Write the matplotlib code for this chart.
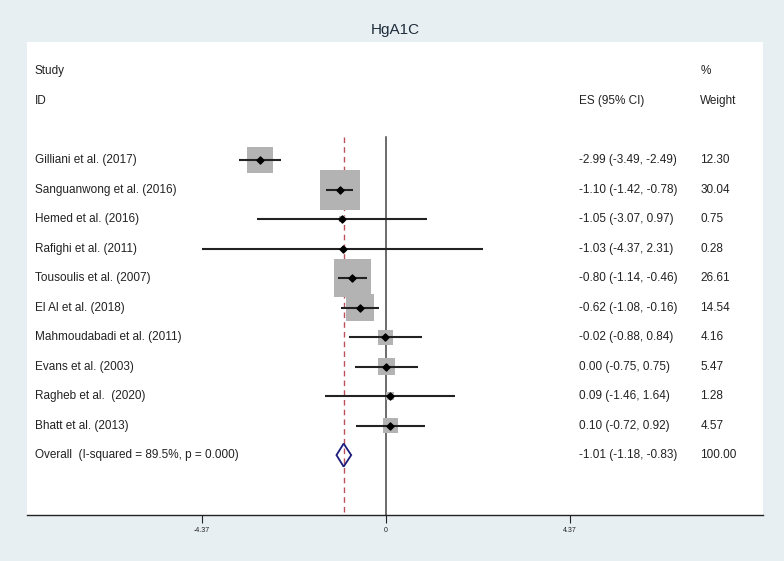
import matplotlib.pyplot as plt
from matplotlib.patches import Polygon

plt.rcParams['font.family'] = ['Liberation Sans', 'DejaVu Sans']

studies = ["Gilliani et al. (2017)", "Sanguanwong et al. (2016)", "Hemed et al. (2016)",
           "Rafighi et al. (2011)", "Tousoulis et al. (2007)", "El Al et al. (2018)",
           "Mahmoudabadi et al. (2011)", "Evans et al. (2003)", "Ragheb et al.  (2020)",
           "Bhatt et al. (2013)"]
es = [-2.99, -1.10, -1.05, -1.03, -0.80, -0.62, -0.02, 0.00, 0.09, 0.10]
lo = [-3.49, -1.42, -3.07, -4.37, -1.14, -1.08, -0.88, -0.75, -1.46, -0.72]
hi = [-2.49, -0.78, 0.97, 2.31, -0.46, -0.16, 0.84, 0.75, 1.64, 0.92]
weights = [12.30, 30.04, 0.75, 0.28, 26.61, 14.54, 4.16, 5.47, 1.28, 4.57]
overall_label = "Overall  (I-squared = 89.5%, p = 0.000)"
overall = (-1.01, -1.18, -0.83)
ticks = [-4.37, 0, 4.37]

bg = '#e8eff2'
txt = '#222222'
fs = 8.5

fig = plt.figure(figsize=(7.84, 5.61), dpi=100, facecolor=bg)
ax = fig.add_axes([27/784, 1-515/561, 736/784, 473/561])
ax.set_facecolor('white')
ax.set_xlim(-8.53, 8.95)
ax.set_ylim(12.03, -4.0)

rows = list(range(len(studies)))
n = len(studies)

# reference lines
ax.plot([0, 0], [-0.78, 12.03], color='#444444', lw=1.1, zorder=1)
ax.plot([overall[0], overall[0]], [-0.78, 12.03], color='#b9505a', lw=1.0,
        ls=(0, (4, 3)), zorder=1)

# weight boxes (area proportional to weight)
ax.scatter(es, rows, s=[28.8**2 * w / 30.04 for w in weights], marker='s',
           color='#b3b3b3', linewidths=0, zorder=2)
ax.hlines(rows, lo, hi, color='#222222', lw=1.5, zorder=3)
ax.scatter(es, rows, s=13, marker='D', color='black', zorder=4)

# overall diamond
e, l, h = overall
dia = Polygon([[l, n], [e, n - 0.39], [h, n], [e, n + 0.39]], closed=True,
              fill=False, edgecolor='#1c1c7c', lw=1.3, zorder=4)
ax.add_patch(dia)

# text columns
lab_x, es_x, w_x = -8.34, 4.58, 7.46
ax.text(lab_x, -3.02, "Study", va='center', ha='left', fontsize=fs, color=txt)
ax.text(lab_x, -2.0, "ID", va='center', ha='left', fontsize=fs, color=txt)
ax.text(es_x, -2.0, "ES (95% CI)", va='center', ha='left', fontsize=fs, color=txt)
ax.text(w_x, -3.02, "%", va='center', ha='left', fontsize=fs, color=txt)
ax.text(w_x, -2.0, "Weight", va='center', ha='left', fontsize=fs, color=txt)
for i in rows:
    ax.text(lab_x, i, studies[i], va='center', ha='left', fontsize=fs, color=txt)
    ax.text(es_x, i, "%.2f (%.2f, %.2f)" % (es[i], lo[i], hi[i]), va='center',
            ha='left', fontsize=fs, color=txt)
    ax.text(w_x, i, "%.2f" % weights[i], va='center', ha='left', fontsize=fs, color=txt)
ax.text(lab_x, n, overall_label, va='center', ha='left', fontsize=fs, color=txt)
ax.text(es_x, n, "%.2f (%.2f, %.2f)" % overall, va='center', ha='left', fontsize=fs, color=txt)
ax.text(w_x, n, "100.00", va='center', ha='left', fontsize=fs, color=txt)

# axes styling
for s in ['top', 'right', 'left']:
    ax.spines[s].set_visible(False)
ax.spines['bottom'].set_color('#222222')
ax.spines['bottom'].set_linewidth(1.0)
ax.set_yticks([])
ax.set_xticks(ticks)
ax.set_xticklabels(["%g" % t if t != 0 else "0" for t in ticks])
ax.tick_params(axis='x', length=6, width=0.8, color='#222222', labelsize=5,
               labelcolor=txt, pad=3)

fig.text(395/784, 1-30/561, "HgA1C", ha='center', va='center', fontsize=11,
         color='#1e2d3b')

fig.savefig('out.png', dpi=100, facecolor=bg)
